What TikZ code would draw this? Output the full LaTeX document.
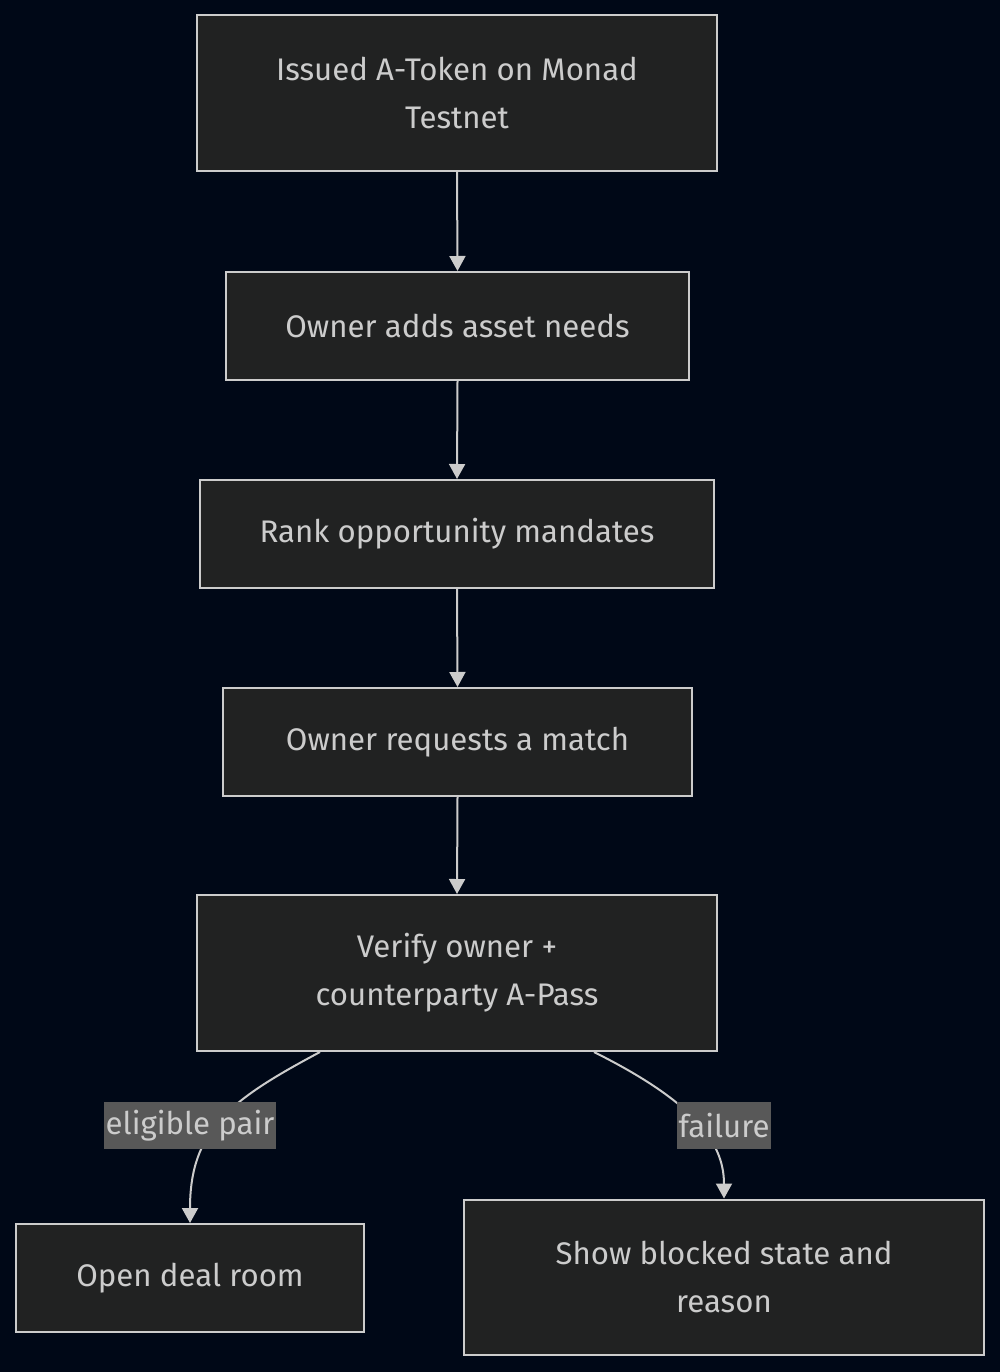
\documentclass[tikz,border=0pt]{standalone}
\usepackage{fontspec}
\setmainfont{Fira Sans}
\usetikzlibrary{arrows.meta}
\definecolor{bgc}{HTML}{000817}
\definecolor{boxc}{HTML}{212222}
\definecolor{linec}{HTML}{CCCCCC}
\definecolor{textc}{HTML}{CCCCCC}
\definecolor{lblc}{HTML}{585858}
\begin{document}
\begin{tikzpicture}[x=1pt,y=-1pt,
  box/.style={draw=linec,fill=boxc,line width=2pt,text=textc,align=center,
    font=\fontsize{31.2}{48}\selectfont,inner sep=0pt},
  lbl/.style={fill=lblc,text=textc,font=\fontsize{31.2}{36}\selectfont,inner sep=0pt,
    minimum height=47pt},
  conn/.style={draw=linec,line width=2pt,-{Triangle[width=16pt,length=15pt]}}]
\fill[bgc] (0,0) rectangle (1000,1372);
\useasboundingbox (0,0) rectangle (1000,1372);
\node[box,minimum width=520pt,minimum height=156pt] (A) at (457,93) {Issued A-Token on Monad\\Testnet};
\node[box,minimum width=463pt,minimum height=108pt] (B) at (457.5,326) {Owner adds asset needs};
\node[box,minimum width=514pt,minimum height=108pt] (C) at (457,534) {Rank opportunity mandates};
\node[box,minimum width=469pt,minimum height=108pt] (D) at (457.5,742) {Owner requests a match};
\node[box,minimum width=520pt,minimum height=156pt] (E) at (457,973) {Verify owner +\\counterparty A-Pass};
\node[box,minimum width=348pt,minimum height=108pt] (F) at (190,1278) {Open deal room};
\node[box,minimum width=520pt,minimum height=155pt] (G) at (724,1277) {Show blocked state and\\reason};
\draw[conn] (A.south) -- (B.north);
\draw[conn] (B.south) -- (C.north);
\draw[conn] (C.south) -- (D.north);
\draw[conn] (D.south) -- (E.north);
\coordinate (e1) at ([xshift=-137pt]E.south);
\coordinate (e2) at ([xshift=137pt]E.south);
\draw[conn] (e1) .. controls (230,1100) and (190,1130) .. (F.north);
\draw[conn] (e2) .. controls (690,1100) and (724,1140) .. (G.north);
\node[lbl,minimum width=172pt] (L1) at (190,1125.5) {eligible pair};
\node[lbl,minimum width=94pt] (L2) at (724,1125.5) {failure};
\end{tikzpicture}
\end{document}
